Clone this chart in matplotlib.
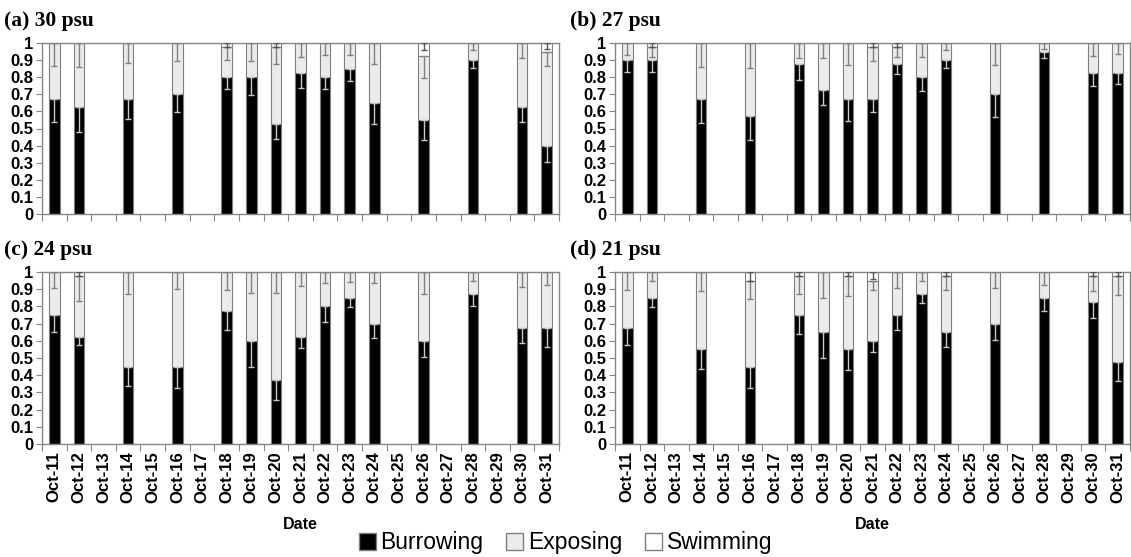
import numpy as np
import matplotlib
matplotlib.use("Agg")
import matplotlib.pyplot as plt
from matplotlib.patches import Patch

dates = ['Oct-11', 'Oct-12', 'Oct-13', 'Oct-14', 'Oct-15', 'Oct-16', 'Oct-17',
         'Oct-18', 'Oct-19', 'Oct-20', 'Oct-21', 'Oct-22', 'Oct-23', 'Oct-24',
         'Oct-25', 'Oct-26', 'Oct-27', 'Oct-28', 'Oct-29', 'Oct-30', 'Oct-31']
sampled = ['Oct-11', 'Oct-12', 'Oct-14', 'Oct-16', 'Oct-18', 'Oct-19', 'Oct-20',
           'Oct-21', 'Oct-22', 'Oct-23', 'Oct-24', 'Oct-26', 'Oct-28', 'Oct-30', 'Oct-31']

# (a) 30 psu
burrow_30 = [0.675, 0.625, 0.675, 0.70, 0.80, 0.80, 0.525, 0.825, 0.80, 0.85, 0.65, 0.55, 0.90, 0.625, 0.40]
expose_30 = [0.325, 0.375, 0.325, 0.30, 0.175, 0.20, 0.45, 0.175, 0.20, 0.15, 0.35, 0.375, 0.10, 0.375, 0.55]
swim_30 = [0, 0, 0, 0, 0.025, 0, 0.025, 0, 0, 0, 0, 0.075, 0, 0, 0.05]
burrow_err_30 = [0.137, 0.145, 0.12, 0.105, 0.07, 0.106, 0.088, 0.086, 0.07, 0.07, 0.124, 0.117, 0.044, 0.087, 0.098]
expose_err_30 = [0.135, 0.142, 0.117, 0.103, 0.075, 0.103, 0.095, 0.084, 0.07, 0.07, 0.123, 0.132, 0.043, 0.086, 0.086]
swim_err_30 = [0, 0, 0, 0, 0.025, 0, 0.025, 0, 0, 0, 0, 0.043, 0, 0, 0.035]

# (b) 27 psu
burrow_27 = [0.90, 0.90, 0.675, 0.575, 0.875, 0.725, 0.675, 0.675, 0.875, 0.80, 0.90, 0.70, 0.95, 0.825, 0.825]
expose_27 = [0.10, 0.075, 0.325, 0.425, 0.125, 0.275, 0.325, 0.30, 0.10, 0.20, 0.10, 0.30, 0.05, 0.175, 0.175]
swim_27 = [0, 0.025, 0, 0, 0, 0, 0, 0.025, 0.025, 0, 0, 0, 0, 0, 0]
burrow_err_27 = [0.07, 0.07, 0.141, 0.142, 0.089, 0.088, 0.129, 0.08, 0.058, 0.08, 0.044, 0.13, 0.038, 0.075, 0.065]
expose_err_27 = [0.07, 0.057, 0.14, 0.144, 0.09, 0.088, 0.13, 0.078, 0.059, 0.082, 0.043, 0.129, 0.035, 0.076, 0.064]
swim_err_27 = [0, 0.025, 0, 0, 0, 0, 0, 0.025, 0.025, 0, 0, 0, 0, 0, 0]

# (c) 24 psu
burrow_24 = [0.75, 0.625, 0.45, 0.45, 0.775, 0.60, 0.375, 0.625, 0.80, 0.85, 0.70, 0.60, 0.875, 0.675, 0.675]
expose_24 = [0.25, 0.35, 0.55, 0.55, 0.225, 0.40, 0.625, 0.375, 0.20, 0.15, 0.30, 0.40, 0.125, 0.325, 0.325]
swim_24 = [0, 0.025, 0, 0, 0, 0, 0, 0, 0, 0, 0, 0, 0, 0, 0]
burrow_err_24 = [0.10, 0.051, 0.114, 0.125, 0.112, 0.15, 0.12, 0.065, 0.092, 0.054, 0.083, 0.094, 0.075, 0.089, 0.109]
expose_err_24 = [0.093, 0.145, 0.128, 0.101, 0.105, 0.12, 0.12, 0.08, 0.064, 0.06, 0.064, 0.128, 0.055, 0.088, 0.076]
swim_err_24 = [0, 0.025, 0, 0, 0, 0, 0, 0, 0, 0, 0, 0, 0, 0, 0]

# (d) 21 psu
burrow_21 = [0.675, 0.85, 0.55, 0.45, 0.75, 0.65, 0.55, 0.60, 0.75, 0.875, 0.65, 0.70, 0.85, 0.825, 0.475]
expose_21 = [0.325, 0.15, 0.45, 0.50, 0.225, 0.35, 0.425, 0.35, 0.25, 0.125, 0.325, 0.30, 0.15, 0.15, 0.50]
swim_21 = [0, 0, 0, 0.05, 0.025, 0, 0.025, 0.05, 0, 0, 0.025, 0, 0, 0.025, 0.025]
burrow_err_21 = [0.101, 0.052, 0.114, 0.125, 0.112, 0.15, 0.12, 0.065, 0.09, 0.055, 0.084, 0.095, 0.074, 0.09, 0.107]
expose_err_21 = [0.103, 0.053, 0.113, 0.108, 0.101, 0.152, 0.117, 0.053, 0.093, 0.055, 0.078, 0.093, 0.076, 0.086, 0.109]
swim_err_21 = [0, 0, 0, 0.05, 0.025, 0, 0.025, 0.04, 0, 0, 0.025, 0, 0, 0.025, 0.025]

titles = ['(a) 30 psu', '(b) 27 psu', '(c) 24 psu', '(d) 21 psu']
series_names = ['Burrowing', 'Exposing', 'Swimming']

panels = [
    (burrow_30, expose_30, swim_30, burrow_err_30, expose_err_30, swim_err_30),
    (burrow_27, expose_27, swim_27, burrow_err_27, expose_err_27, swim_err_27),
    (burrow_24, expose_24, swim_24, burrow_err_24, expose_err_24, swim_err_24),
    (burrow_21, expose_21, swim_21, burrow_err_21, expose_err_21, swim_err_21),
]

plt.rcParams['font.family'] = ['Liberation Sans', 'DejaVu Sans']

W, H = 1131, 557
fig = plt.figure(figsize=(W / 100, H / 100), dpi=100)

# axes boxes in pixels: left, right, top, bottom
boxes = [(42, 559, 43, 214), (615, 1130, 43, 214),
         (42, 559, 272, 444), (615, 1130, 272, 444)]
title_pos = [(4, 21), (570, 21), (4, 250), (570, 250)]

edge = '#7f7f7f'
spine_col = '#868686'
expose_col = '#ebebeb'
bar_w = 0.43

for k, (box, data) in enumerate(zip(boxes, panels)):
    l, r, t, b = box
    ax = fig.add_axes([l / W, 1 - b / H, (r - l) / W, (b - t) / H])
    burrow, expose, swim, b_err, e_err, s_err = [np.array(d, dtype=float) for d in data]
    x = np.array([dates.index(d) for d in sampled])

    ax.bar(x, burrow, bar_w, color='black', edgecolor=edge, linewidth=0.8, zorder=2)
    ax.bar(x, expose, bar_w, bottom=burrow, color=expose_col, edgecolor=edge, linewidth=0.8, zorder=2)
    ax.bar(x, swim, bar_w, bottom=burrow + expose, color='white', edgecolor=edge, linewidth=0.8, zorder=2)

    # minus-direction error bars hanging from the top of each segment
    zeros = np.zeros_like(burrow)
    ax.errorbar(x, burrow, yerr=[b_err, zeros], fmt='none', ecolor='#c8c8c8',
                elinewidth=1.0, capsize=2.5, capthick=1.0, zorder=3)
    ax.errorbar(x, burrow + expose, yerr=[e_err, zeros], fmt='none', ecolor='#808080',
                elinewidth=1.0, capsize=2.5, capthick=1.0, zorder=3)
    has_swim = swim > 0
    ax.errorbar(x[has_swim], (burrow + expose + swim)[has_swim],
                yerr=[s_err[has_swim], zeros[has_swim]], fmt='none', ecolor='#555555',
                elinewidth=1.0, capsize=2.5, capthick=1.0, zorder=3)

    ax.set_xlim(-0.5, len(dates) - 0.5)
    ax.set_ylim(0, 1)

    # category boundary ticks, labels at the centres
    ax.set_xticks(np.arange(-0.5, len(dates), 1.0))
    ax.set_xticklabels([])
    ax.set_xticks(np.arange(len(dates)), minor=True)
    if k >= 2:
        ax.set_xticklabels(dates, minor=True, rotation=90, fontsize=12, fontweight='bold')
        ax.set_xlabel('Date', fontsize=11.5, fontweight='bold', labelpad=10)
    ax.tick_params(axis='x', which='major', direction='out', length=5, color=spine_col)
    ax.tick_params(axis='x', which='minor', length=0, pad=5)

    yt = np.round(np.arange(0, 1.01, 0.1), 1)
    ax.set_yticks(yt)
    ax.set_yticklabels(['0', '0.1', '0.2', '0.3', '0.4', '0.5', '0.6', '0.7', '0.8', '0.9', '1'],
                       fontsize=12, fontweight='bold')
    ax.tick_params(axis='y', direction='out', length=4, color=spine_col, pad=2)

    for s in ax.spines.values():
        s.set_color(spine_col)
        s.set_linewidth(1.0)

    tx, ty = title_pos[k]
    fig.text(tx / W, 1 - ty / H, titles[k], fontsize=15.5, fontweight='bold',
             family='Liberation Serif', va='center', ha='left')

handles = [Patch(facecolor='black', edgecolor=edge, label=series_names[0]),
           Patch(facecolor=expose_col, edgecolor=edge, label=series_names[1]),
           Patch(facecolor='white', edgecolor=edge, label=series_names[2])]
fig.legend(handles=handles, loc='center', bbox_to_anchor=(0.5, 1 - 543 / H), ncol=3,
           frameon=False, fontsize=16.5, handlelength=0.75, handleheight=0.75,
           handletextpad=0.2, columnspacing=1.0, borderpad=0)

fig.savefig('out.png', dpi=100)
